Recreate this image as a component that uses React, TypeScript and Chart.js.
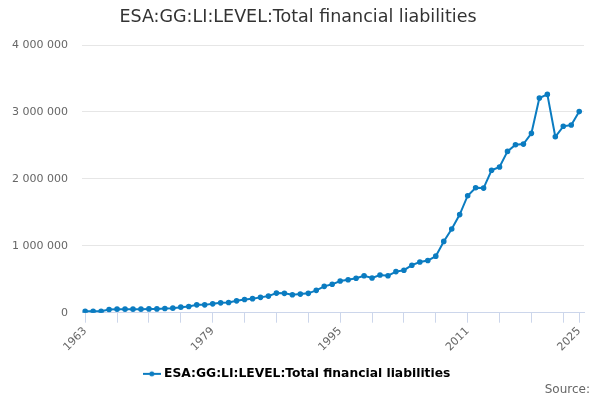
import React, { useEffect, useRef } from "react";
import { Chart, registerables } from "chart.js";

Chart.register(...registerables);

const years: number[] = [];
for (let y = 1963; y <= 2025; y++) years.push(y);

const values: number[] = [
  22000, 22000, 22000, 48000, 53000, 53000, 53000, 53000, 57000, 57000,
  63000, 68000, 83000, 93000, 117000, 117000, 132000, 147000, 153000, 177000,
  198000, 210000, 229000, 248000, 293000, 289000, 268000, 278000, 289000, 334000,
  394000, 424000, 474000, 493000, 514000, 553000, 519000, 564000, 553000, 614000,
  635000, 710000, 757000, 779000, 845000, 1065000, 1251000, 1466000, 1748000, 1868000,
  1862000, 2128000, 2178000, 2410000, 2509000, 2519000, 2680000, 3207000, 3262000, 2629000,
  2785000, 2805000, 3005000,
];

const labelYears = [1963, 1979, 1995, 2011, 2025];
const tickYears = [1963, 1967, 1971, 1975, 1979, 1983, 1987, 1991, 1995, 1999, 2003, 2007, 2011, 2015, 2019, 2023, 2025];

const seriesName = "ESA:GG:LI:LEVEL:Total financial liabilities";
const titleText = "ESA:GG:LI:LEVEL:Total financial liabilities";
const sourceText = "Source:";
const lineColor = "#0b7cc1";
const FONT = "'DejaVu Sans', sans-serif";

function fmt(v: number): string {
  return String(Math.round(v)).replace(/\B(?=(\d{3})+(?!\d))/g, " ");
}

function legendSymbol(): HTMLCanvasElement {
  const c = document.createElement("canvas");
  const dpr = window.devicePixelRatio || 1;
  c.width = 18 * dpr;
  c.height = 8 * dpr;
  c.style.width = "18px";
  c.style.height = "8px";
  const ctx = c.getContext("2d")!;
  ctx.scale(dpr, dpr);
  ctx.strokeStyle = lineColor;
  ctx.lineWidth = 2;
  ctx.beginPath();
  ctx.moveTo(0, 4);
  ctx.lineTo(18, 4);
  ctx.stroke();
  ctx.fillStyle = lineColor;
  ctx.beginPath();
  ctx.arc(9, 4, 2.5, 0, Math.PI * 2);
  ctx.fill();
  return c;
}

export default function App() {
  const ref = useRef<HTMLCanvasElement>(null);
  useEffect(() => {
    const sym = legendSymbol();
    const sourcePlugin = {
      id: "sourceText",
      afterDraw(chart: any) {
        const ctx = chart.ctx;
        ctx.save();
        ctx.font = `12px ${FONT}`;
        ctx.fillStyle = "#666666";
        ctx.textAlign = "right";
        ctx.textBaseline = "middle";
        ctx.fillText(sourceText, 590, 390);
        ctx.restore();
      },
    };
    const chart = new Chart(ref.current!, {
      type: "line",
      data: {
        datasets: [
          {
            label: seriesName,
            data: years.map((y, i) => ({ x: y, y: values[i] })),
            borderColor: lineColor,
            backgroundColor: lineColor,
            borderWidth: 2,
            pointRadius: 1.8,
            pointHoverRadius: 3,
            pointStyle: "circle",
            tension: 0,
          } as any,
        ],
      },
      options: {
        animation: false,
        responsive: false,
        layout: { padding: { left: 12, right: 16, top: 0, bottom: 10 } },
        plugins: {
          title: {
            display: true,
            text: titleText,
            color: "#333333",
            font: { family: FONT, size: 17.5, weight: "normal" },
            padding: { top: 7, bottom: 17 },
          },
          legend: {
            display: true,
            position: "bottom",
            labels: {
              color: "#333333",
              font: { family: FONT, size: 12.3, weight: "bold" },
              usePointStyle: true,
              generateLabels: () => [
                {
                  text: seriesName,
                  pointStyle: sym as any,
                  fillStyle: lineColor,
                  strokeStyle: lineColor,
                  lineWidth: 0,
                  hidden: false,
                  datasetIndex: 0,
                } as any,
              ],
            },
          },
          tooltip: { enabled: false },
        },
        scales: {
          x: {
            type: "linear",
            min: 1962.6,
            max: 2025.6,
            afterBuildTicks: (scale: any) => {
              scale.ticks = tickYears.map((v) => ({ value: v }));
            },
            afterFit: (scale: any) => {
              scale.height = 45;
            },
            ticks: {
              autoSkip: false,
              minRotation: 45,
              maxRotation: 45,
              color: "#666666",
              font: { family: FONT, size: 11 },
              padding: 2,
              callback: (v: any) => (labelYears.includes(Number(v)) ? String(v) : ""),
            },
            grid: {
              drawOnChartArea: false,
              drawTicks: true,
              tickLength: 10,
              color: "#ccd6eb",
            },
            border: { color: "#ccd6eb", width: 1 },
          },
          y: {
            min: 0,
            max: 4000000,
            afterFit: (scale: any) => {
              scale.width = 70;
            },
            ticks: {
              stepSize: 1000000,
              color: "#666666",
              font: { family: FONT, size: 11 },
              padding: 14,
              callback: (v: any) => fmt(Number(v)),
            },
            grid: { color: "#e6e6e6", drawTicks: false, lineWidth: 1 },
            border: { display: false },
          },
        },
      },
      plugins: [sourcePlugin],
    });
    return () => chart.destroy();
  }, []);
  return (
    <div style={{ position: "fixed", left: 0, top: 0, width: 600, height: 400, background: "#fff" }}>
      <canvas ref={ref} width={600} height={400} style={{ width: 600, height: 400 }} />
    </div>
  );
}
